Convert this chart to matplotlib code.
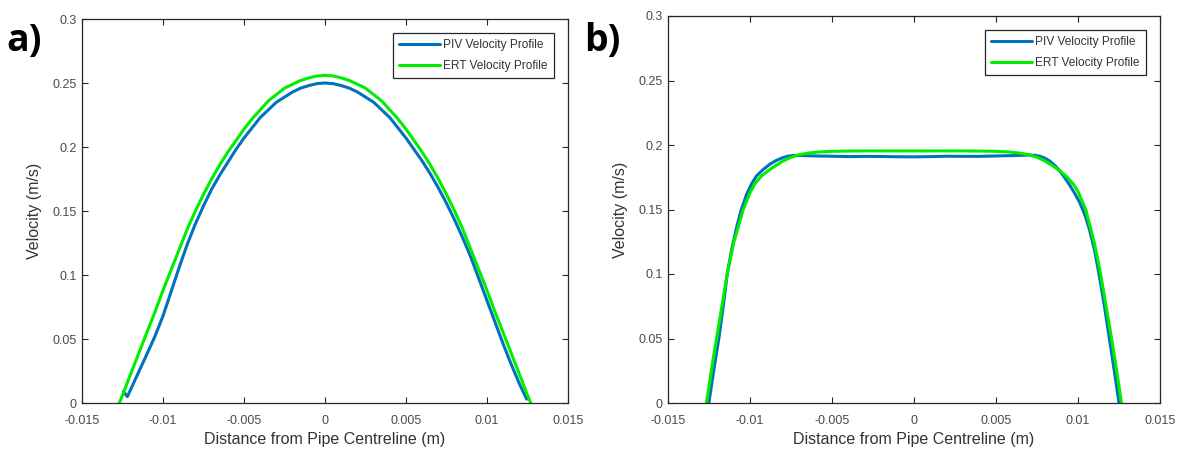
import matplotlib
matplotlib.use("Agg")
import matplotlib.pyplot as plt

plt.rcParams['font.family'] = ['Liberation Sans', 'DejaVu Sans']

# ---------------- data ----------------
# Panel a) parabolic profiles
a_piv_x = [-0.01245, -0.0122, -0.0118, -0.0114, -0.011, -0.0105, -0.010, -0.0095, -0.009,
           -0.0085, -0.008, -0.0075, -0.007, -0.0065, -0.006, -0.0055, -0.005, -0.0045,
           -0.004, -0.0035, -0.003, -0.0025, -0.002, -0.0015, -0.001, -0.0005, 0.0,
           0.0005, 0.001, 0.0015, 0.002, 0.0025, 0.003, 0.0035, 0.004, 0.0045, 0.005,
           0.0055, 0.006, 0.0065, 0.007, 0.0075, 0.008, 0.0085, 0.009, 0.0095, 0.010,
           0.0105, 0.011, 0.0115, 0.012, 0.01245]
a_piv_v = [0.009, 0.005, 0.016, 0.027, 0.038, 0.052, 0.068, 0.087, 0.106,
           0.124, 0.140, 0.154, 0.167, 0.178, 0.188, 0.198, 0.207, 0.215,
           0.223, 0.229, 0.235, 0.239, 0.243, 0.246, 0.248, 0.2495, 0.250,
           0.2495, 0.248, 0.246, 0.243, 0.239, 0.235, 0.229, 0.223, 0.215, 0.207,
           0.198, 0.189, 0.179, 0.168, 0.156, 0.143, 0.129, 0.114, 0.097, 0.080,
           0.063, 0.046, 0.030, 0.015, 0.003]

a_ert_x = [-0.0127, -0.0125, -0.0122, -0.0118, -0.0114, -0.011, -0.0105, -0.010, -0.0095,
           -0.009, -0.0085, -0.008, -0.0075, -0.007, -0.0065, -0.006, -0.0055, -0.005,
           -0.0045, -0.004, -0.0035, -0.003, -0.0025, -0.002, -0.0015, -0.001, -0.0005,
           0.0, 0.0005, 0.001, 0.0015, 0.002, 0.0025, 0.003, 0.0035, 0.004, 0.0045,
           0.005, 0.0055, 0.006, 0.0065, 0.007, 0.0075, 0.008, 0.0085, 0.009, 0.0095,
           0.010, 0.0105, 0.011, 0.0114, 0.0118, 0.0122, 0.0125, 0.0127]
a_ert_v = [0.0, 0.006, 0.016, 0.029, 0.042, 0.055, 0.071, 0.088, 0.104,
           0.120, 0.136, 0.150, 0.163, 0.175, 0.186, 0.196, 0.205, 0.214,
           0.222, 0.229, 0.236, 0.241, 0.246, 0.249, 0.252, 0.254, 0.2555,
           0.256, 0.2555, 0.254, 0.252, 0.249, 0.246, 0.241, 0.236, 0.229, 0.222,
           0.214, 0.205, 0.196, 0.186, 0.175, 0.163, 0.150, 0.136, 0.120, 0.104,
           0.088, 0.071, 0.055, 0.042, 0.029, 0.016, 0.006, 0.0]

# Panel b) flat (plug-like) profiles
b_piv_x = [-0.01251, -0.0122, -0.0119, -0.0116, -0.01139, -0.0111, -0.0108, -0.01053,
           -0.0102, -0.0099, -0.0096, -0.0092, -0.0088, -0.0084, -0.0080, -0.0077,
           -0.0074, -0.007, -0.006, -0.005, -0.004, -0.003, -0.002, -0.001, 0.0,
           0.001, 0.002, 0.003, 0.004, 0.005, 0.006, 0.007, 0.0074, 0.0077, 0.0080,
           0.0083, 0.0086, 0.0089, 0.0092, 0.0095, 0.0098, 0.0101, 0.0104, 0.0107,
           0.0110, 0.01128, 0.0116, 0.0119, 0.0122, 0.0125]
b_piv_v = [0.0, 0.026, 0.050, 0.078, 0.100, 0.120, 0.137, 0.150,
           0.162, 0.170, 0.176, 0.181, 0.185, 0.188, 0.1902, 0.1913,
           0.1918, 0.1919, 0.1915, 0.1913, 0.1910, 0.1912, 0.1911, 0.1909, 0.1908,
           0.1910, 0.1913, 0.1912, 0.1912, 0.1915, 0.1918, 0.1922, 0.1920, 0.1912, 0.1897,
           0.1873, 0.1840, 0.1797, 0.1745, 0.1688, 0.1625, 0.1555, 0.1465, 0.1345,
           0.1190, 0.1000, 0.0760, 0.0510, 0.0260, 0.0]

b_ert_x = [-0.01266, -0.0125, -0.0123, -0.01204, -0.0117, -0.01139, -0.0110, -0.01041,
           -0.0100, -0.0097, -0.0093, -0.0089, -0.0085, -0.0080, -0.0075, -0.0070,
           -0.0064, -0.0058, -0.005, -0.004, -0.003, -0.002, -0.001, 0.0, 0.001,
           0.002, 0.003, 0.004, 0.005, 0.0058, 0.0064, 0.0070, 0.0075, 0.0080, 0.0085,
           0.0089, 0.0093, 0.0097, 0.0100, 0.01047, 0.0110, 0.01138, 0.0117, 0.01205,
           0.0123, 0.0125, 0.01265]
b_ert_v = [0.0, 0.013, 0.030, 0.050, 0.076, 0.100, 0.124, 0.150,
           0.163, 0.170, 0.176, 0.180, 0.1835, 0.1875, 0.1905, 0.1925,
           0.1938, 0.1946, 0.1951, 0.1953, 0.1954, 0.1954, 0.1954, 0.1954, 0.1954,
           0.1954, 0.1954, 0.1953, 0.1951, 0.1946, 0.1938, 0.1925, 0.1905, 0.1875, 0.1835,
           0.1800, 0.1755, 0.1700, 0.1640, 0.1500, 0.1240, 0.1000, 0.0760, 0.0500,
           0.0300, 0.0130, 0.0]

x_ticks = [-0.015, -0.01, -0.005, 0, 0.005, 0.01, 0.015]
x_tick_labels = ["-0.015", "-0.01", "-0.005", "0", "0.005", "0.01", "0.015"]
y_ticks = [0, 0.05, 0.1, 0.15, 0.2, 0.25, 0.3]
y_tick_labels = ["0", "0.05", "0.1", "0.15", "0.2", "0.25", "0.3"]

series_labels = ["PIV Velocity Profile", "ERT Velocity Profile"]
x_label = "Distance from Pipe Centreline (m)"
y_label = "Velocity (m/s)"
panel_labels = ["a)", "b)"]

# ---------------- figure ----------------
W, H = 1188, 453
fig = plt.figure(figsize=(W / 100, H / 100), dpi=100, facecolor='white')

blue = '#0072BD'
green = '#00EE00'
axcol = '#262626'
ticklabcol = '#4a4a4a'

def px_axes(l, r, t, b):
    return fig.add_axes([l / W, 1 - b / H, (r - l) / W, (b - t) / H])

ax1 = px_axes(82, 568, 19, 403)
ax2 = px_axes(668, 1160, 16, 403)

panels = [
    (ax1, a_piv_x, a_piv_v, a_ert_x, a_ert_v),
    (ax2, b_piv_x, b_piv_v, b_ert_x, b_ert_v),
]

for ax, px_, pv_, ex_, ev_ in panels:
    ax.plot(px_, pv_, color=blue, lw=2.2, label=series_labels[0],
            solid_capstyle='round', solid_joinstyle='round')
    ax.plot(ex_, ev_, color=green, lw=2.2, label=series_labels[1],
            solid_capstyle='round', solid_joinstyle='round')
    ax.set_xlim(-0.015, 0.015)
    ax.set_ylim(0, 0.3)
    ax.set_xticks(x_ticks)
    ax.set_xticklabels(x_tick_labels)
    ax.set_yticks(y_ticks)
    ax.set_yticklabels(y_tick_labels)
    ax.tick_params(direction='in', top=True, right=True, length=4, width=0.8,
                   colors=axcol, labelcolor=ticklabcol, labelsize=9)
    ax.tick_params(axis='x', pad=9)
    ax.tick_params(axis='y', pad=4)
    for s in ax.spines.values():
        s.set_color(axcol)
        s.set_linewidth(0.9)
    ax.set_xlabel(x_label, fontsize=11.5, color='#333333', labelpad=3)
    ax.set_ylabel(y_label, fontsize=11.5, color='#333333', labelpad=7)
    leg = ax.legend(loc='upper right', fontsize=8.6, handlelength=3.4,
                    handletextpad=0.3, borderpad=0.5, labelspacing=0.75,
                    fancybox=False, framealpha=1, edgecolor=axcol,
                    borderaxespad=1.2)
    leg.get_frame().set_linewidth(0.9)
    for t in leg.get_texts():
        t.set_color('#333333')

fig.text(6 / W, 1 - 41 / H, panel_labels[0], fontsize=27, fontweight='bold',
         family=['Open Sans', 'DejaVu Sans'], va='center', ha='left')
fig.text(584 / W, 1 - 41 / H, panel_labels[1], fontsize=27, fontweight='bold',
         family=['Open Sans', 'DejaVu Sans'], va='center', ha='left')

fig.savefig('out.png', dpi=100, facecolor='white')
